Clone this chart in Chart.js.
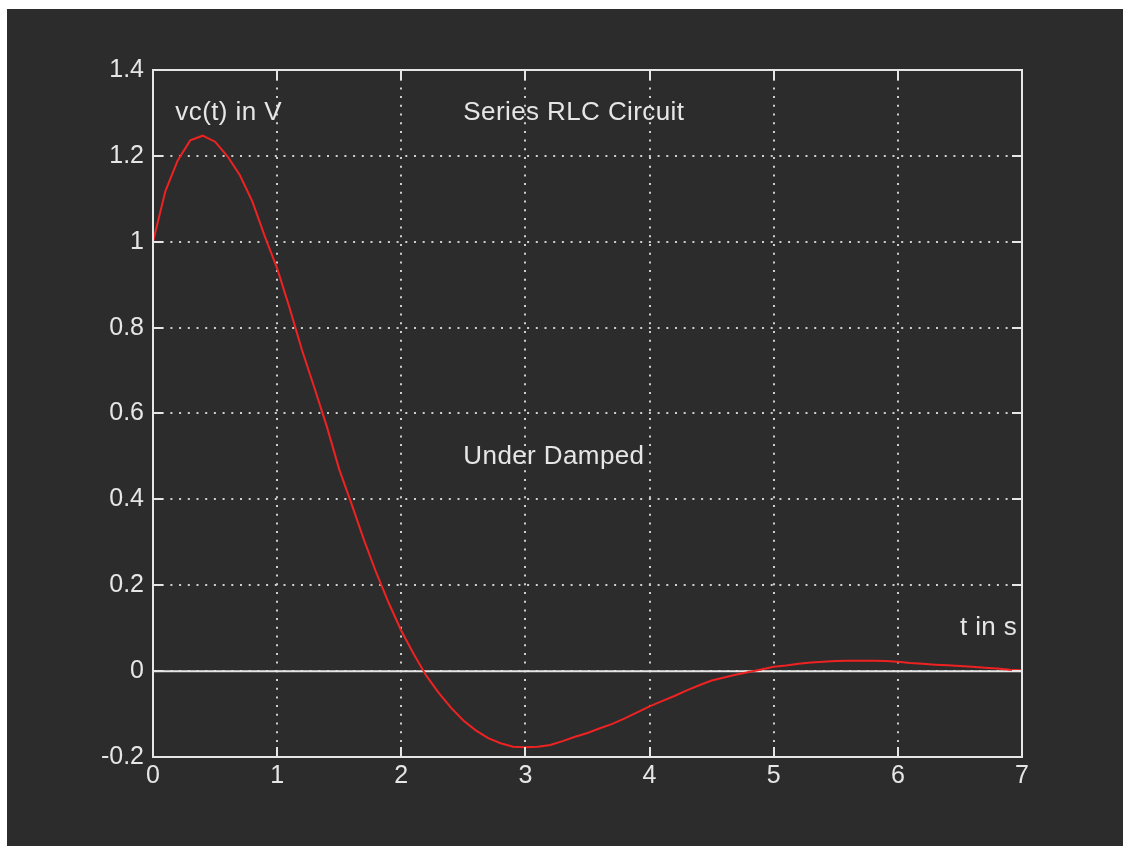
<!DOCTYPE html>
<html>
<head>
<meta charset="utf-8">
<title>Series RLC Circuit</title>
<script src="https://cdn.jsdelivr.net/npm/chart.js@4/dist/chart.umd.min.js"></script>
<style>
    html, body { margin: 0; padding: 0; background: #ffffff; }
    #rlcChart { position: absolute; left: 7px; top: 9px; background: #2c2c2c; }
</style>
</head>
<body>
<canvas id="rlcChart" width="1116" height="837"></canvas>
<script>
// time in s
const timeValues = [0, 0.1, 0.2, 0.3, 0.4, 0.5, 0.6, 0.7, 0.8, 0.9,
    1.0, 1.1, 1.2, 1.3, 1.4, 1.5, 1.6, 1.7, 1.8, 1.9,
    2.0, 2.1, 2.2, 2.3, 2.4, 2.5, 2.6, 2.7, 2.8, 2.9,
    3.0, 3.1, 3.2, 3.3, 3.4, 3.5, 3.6, 3.7, 3.8, 3.9,
    4.0, 4.1, 4.2, 4.3, 4.4, 4.5, 4.6, 4.7, 4.8, 4.9,
    5.0, 5.1, 5.2, 5.3, 5.4, 5.5, 5.6, 5.7, 5.8, 5.9,
    6.0, 6.1, 6.2, 6.3, 6.4, 6.5, 6.6, 6.7, 6.8, 6.9, 7.0];
// vc(t) in V
const vcValues = [1.000, 1.118, 1.190, 1.236, 1.247, 1.233, 1.199, 1.155, 1.094, 1.013,
    0.938, 0.846, 0.748, 0.660, 0.570, 0.470, 0.389, 0.305, 0.228, 0.158,
    0.094, 0.040, -0.010, -0.050, -0.085, -0.115, -0.138, -0.156, -0.168, -0.176,
    -0.177, -0.176, -0.172, -0.163, -0.153, -0.144, -0.133, -0.123, -0.110, -0.096,
    -0.082, -0.070, -0.058, -0.045, -0.033, -0.022, -0.015, -0.008, -0.002, 0.004,
    0.010, 0.013, 0.017, 0.020, 0.022, 0.0235, 0.024, 0.024, 0.024, 0.0235,
    0.022, 0.019, 0.017, 0.015, 0.0135, 0.012, 0.010, 0.008, 0.006, 0.003, 0.002];
// the horizontal zero line
const zeroLineT = [0, 7];
const zeroLineV = [0, 0];

const xTickValues = [0, 1, 2, 3, 4, 5, 6, 7];
const xTickLabels = ['0', '1', '2', '3', '4', '5', '6', '7'];
const yTickValues = [-0.2, 0, 0.2, 0.4, 0.6, 0.8, 1.0, 1.2, 1.4];
const yTickLabels = ['-0.2', '0', '0.2', '0.4', '0.6', '0.8', '1', '1.2', '1.4'];

// text labels placed in data coords (like matlab text())
const noteTexts = ['vc(t) in V', 'Series RLC Circuit', 'Under Damped', 't in s'];
const noteX = [0.18, 2.5, 2.5, 6.5];
const noteY = [1.3, 1.3, 0.5, 0.1];

const fg = '#e6e6e6';
const fontFamily = '"Liberation Sans", Arial, Helvetica, sans-serif';

// box around the axes + inward tick marks on all four sides
const axesFrame = {
    id: 'axesFrame',
    afterDatasetsDraw(chart) {
        const { ctx, chartArea: a, scales: { x, y } } = chart;
        const len = 10;
        ctx.save();
        ctx.strokeStyle = fg;
        ctx.lineWidth = 2;
        ctx.beginPath();
        xTickValues.forEach(v => {
            const px = Math.round(x.getPixelForValue(v));
            ctx.moveTo(px, a.bottom); ctx.lineTo(px, a.bottom - len);
            ctx.moveTo(px, a.top); ctx.lineTo(px, a.top + len);
        });
        yTickValues.forEach(v => {
            const py = Math.round(y.getPixelForValue(v));
            ctx.moveTo(a.left, py); ctx.lineTo(a.left + len, py);
            ctx.moveTo(a.right, py); ctx.lineTo(a.right - len, py);
        });
        ctx.stroke();
        ctx.strokeRect(a.left, a.top, a.right - a.left, a.bottom - a.top);

        ctx.fillStyle = fg;
        ctx.font = '26px ' + fontFamily;
        ctx.letterSpacing = '0.4px';
        ctx.textAlign = 'left';
        ctx.textBaseline = 'middle';
        noteTexts.forEach((t, i) => {
            ctx.fillText(t, x.getPixelForValue(noteX[i]), y.getPixelForValue(noteY[i]));
        });
        ctx.restore();
    }
};

const ctx = document.getElementById('rlcChart').getContext('2d');
new Chart(ctx, {
    type: 'line',
    data: {
        datasets: [{
            label: 'vc(t)',
            data: timeValues.map((t, i) => ({ x: t, y: vcValues[i] })),
            borderColor: '#ee2222',
            borderWidth: 2,
            pointRadius: 0,
            tension: 0,
            fill: false
        }, {
            label: 'zero',
            data: zeroLineT.map((t, i) => ({ x: t, y: zeroLineV[i] })),
            borderColor: fg,
            borderWidth: 2,
            pointRadius: 0,
            fill: false
        }]
    },
    options: {
        responsive: false,
        animation: false,
        events: [],
        layout: {
            padding: { left: 0, right: 101, top: 61, bottom: 0 }
        },
        plugins: {
            legend: { display: false },
            tooltip: { enabled: false }
        },
        scales: {
            x: {
                type: 'linear',
                min: 0,
                max: 7,
                afterBuildTicks: scale => { scale.ticks = xTickValues.map(v => ({ value: v })); },
                afterFit: scale => { scale.height = 89; },
                grid: {
                    color: '#cfcfcf',
                    lineWidth: 2,
                    drawTicks: false
                },
                border: { display: false, dash: [2, 6.7] },
                ticks: {
                    color: fg,
                    padding: 4,
                    maxRotation: 0,
                    font: { family: fontFamily, size: 25 },
                    callback: (v, i) => xTickLabels[i]
                }
            },
            y: {
                type: 'linear',
                min: -0.2,
                max: 1.4,
                afterBuildTicks: scale => { scale.ticks = yTickValues.map(v => ({ value: v })); },
                afterFit: scale => { scale.width = 146; },
                grid: {
                    color: '#cfcfcf',
                    lineWidth: 2,
                    drawTicks: false
                },
                border: { display: false, dash: [2, 6.7] },
                ticks: {
                    color: fg,
                    padding: 9,
                    font: { family: fontFamily, size: 25 },
                    callback: (v, i) => yTickLabels[i]
                }
            }
        }
    },
    plugins: [axesFrame]
});
</script>
</body>
</html>
